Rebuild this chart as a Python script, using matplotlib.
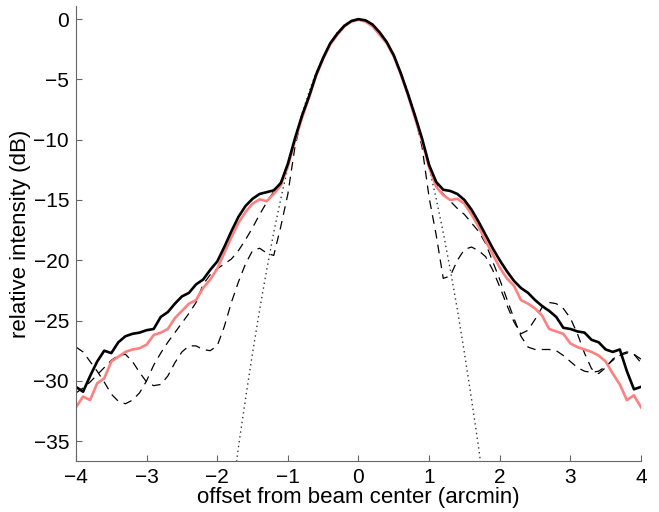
import numpy as np
import matplotlib
matplotlib.use("Agg")
import matplotlib.pyplot as plt

# measured beam profiles, 0.1 arcmin steps from -4 to 4
offset = np.round(np.arange(-40, 41) / 10.0, 1)

beam_black = [
    -30.5, -30.9, -29.6, -28.4, -27.5, -27.7, -26.8, -26.3, -26.1, -26.0,
    -25.8, -25.7, -24.7, -24.3, -23.6, -23.0, -22.7, -22.0, -21.6, -20.8,
    -20.1, -18.9, -17.6, -16.4, -15.5, -14.9, -14.5, -14.35, -14.2, -13.6,
    -12.0, -9.9, -8.0, -6.4, -4.6, -3.2, -2.0, -1.2, -0.55, -0.15,
    0.0,
    -0.1, -0.45, -1.1, -1.9, -3.0, -4.5, -6.2, -8.0, -9.9, -12.1,
    -13.5, -14.15, -14.25, -14.5, -15.0, -15.8, -16.8, -17.9, -19.0, -20.0,
    -20.9, -21.7, -22.3, -22.7, -23.3, -23.8, -24.2, -24.7, -25.6, -25.7,
    -25.9, -26.0, -26.6, -26.8, -27.4, -27.6, -27.4, -29.2, -30.7, -30.5,
]

beam_pink = [
    -32.2, -31.3, -31.6, -30.2, -29.8, -28.4, -28.0, -27.6, -27.4, -27.3,
    -27.0, -26.2, -26.0, -25.7, -24.8, -24.2, -23.6, -23.3, -22.3, -21.6,
    -20.7, -19.4, -18.1, -16.9, -16.0, -15.3, -14.95, -15.1, -14.5, -13.8,
    -12.2, -10.1, -8.2, -6.5, -4.7, -3.3, -2.1, -1.3, -0.6, -0.2,
    -0.05,
    -0.2, -0.6, -1.3, -2.0, -3.1, -4.6, -6.3, -8.2, -10.1, -12.3,
    -13.9, -14.6, -15.0, -14.9, -15.3, -16.2, -17.2, -18.4, -19.5, -20.6,
    -21.5, -22.1, -23.3, -23.6, -24.0, -24.6, -25.7, -25.9, -26.1, -26.9,
    -27.2, -27.4, -27.6, -27.9, -28.4, -29.4, -30.3, -31.6, -31.2, -32.2,
]

dashed_a = [
    -27.2, -27.6, -28.4, -29.2, -30.1, -31.1, -31.7, -31.9, -31.6, -31.0,
    -30.0, -28.7, -27.7, -26.8, -26.0, -25.2, -24.4, -23.5, -22.0, -21.2,
    -20.7, -20.3, -19.9, -19.2, -18.3, -17.3, -16.2, -15.2, -14.3, -13.5,
    -12.1, -9.9, -8.0, -6.4, -4.6, -3.2, -2.0, -1.2, -0.55, -0.15,
    0.0,
    -0.1, -0.45, -1.1, -1.9, -3.0, -4.5, -6.2, -8.0, -9.9, -12.2,
    -13.7, -14.5, -15.1, -15.7, -16.2, -16.9, -17.6, -18.6, -20.1, -21.6,
    -23.2, -24.8, -26.3, -27.2, -27.4, -27.4, -27.4, -27.5, -27.9, -28.4,
    -28.9, -29.2, -29.3, -29.2, -28.8, -28.3, -27.9, -27.7, -27.8, -28.2,
]

dashed_b = [
    -31.0, -30.6, -30.1, -29.5, -28.9, -28.3, -27.9, -27.8, -28.4, -29.3,
    -30.1, -30.4, -30.3, -29.6, -28.5, -27.6, -27.1, -27.1, -27.4, -27.5,
    -27.1, -25.5, -23.5, -21.8, -20.3, -19.2, -19.0, -19.4, -19.6, -17.2,
    -14.5, -10.6, -8.1, -6.4, -4.6, -3.2, -2.0, -1.2, -0.55, -0.15,
    0.0,
    -0.1, -0.45, -1.1, -1.9, -3.0, -4.5, -6.2, -8.1, -10.6, -14.8,
    -17.9, -21.5, -21.3, -20.0, -19.1, -18.9, -19.2, -19.7, -20.8, -22.2,
    -23.7, -25.1, -26.1, -25.8, -24.9, -23.9, -23.5, -23.6, -24.0, -24.8,
    -26.1, -27.7, -29.0, -29.4, -28.9, -28.2, -27.8, -27.6, -27.8, -28.5,
]

# gaussian reference, -1.8 .. 1.8
gauss_x = np.round(np.arange(-18, 19) / 10.0, 1)
gauss_db = [
    -39.9, -35.5, -31.5, -27.7, -24.1, -20.8, -17.7, -14.9, -12.3, -9.96,
    -7.87, -6.03, -4.43, -3.08, -1.97, -1.11, -0.49, -0.12,
    0.0,
    -0.12, -0.49, -1.11, -1.97, -3.08, -4.43, -6.03, -7.87, -9.96, -12.3,
    -14.9, -17.7, -20.8, -24.1, -27.7, -31.5, -35.5, -39.9,
]


def main():
    plt.rcParams['font.family'] = ['Liberation Sans', 'DejaVu Sans']
    fig = plt.figure(figsize=(6.59, 5.12), dpi=100)
    ax = fig.add_axes([0.1153, 0.0996, 0.8574, 0.8884])

    ax.plot(gauss_x, gauss_db, color='0.2', lw=1.0, ls=(0, (1, 2.5)))
    ax.plot(offset, dashed_a, color='k', lw=0.9, ls=(0, (7, 5)))
    ax.plot(offset, dashed_b, color='k', lw=0.9, ls=(0, (7, 5)))
    ax.plot(offset, beam_pink, color='#ff8080', lw=1.9)
    ax.plot(offset, beam_black, color='k', lw=1.9)

    ax.set_xlim(-4, 4)
    ax.set_ylim(-36.65, 1.08)
    ax.set_xticks(range(-4, 5))
    ax.set_yticks(range(-35, 1, 5))

    for side in ('top', 'right'):
        ax.spines[side].set_visible(False)
    for side in ('left', 'bottom'):
        ax.spines[side].set_color('0.4')
        ax.spines[side].set_linewidth(0.8)
    ax.tick_params(direction='in', length=4, width=0.8, color='0.4',
                   labelsize=15, labelcolor='k', pad=5)

    ax.set_xlabel('offset from beam center (arcmin)', fontsize=16, labelpad=0)
    ax.set_ylabel('relative intensity (dB)', fontsize=16, labelpad=2)

    fig.savefig('out.png', dpi=100)
    plt.close(fig)


if __name__ == "__main__":
    main()
